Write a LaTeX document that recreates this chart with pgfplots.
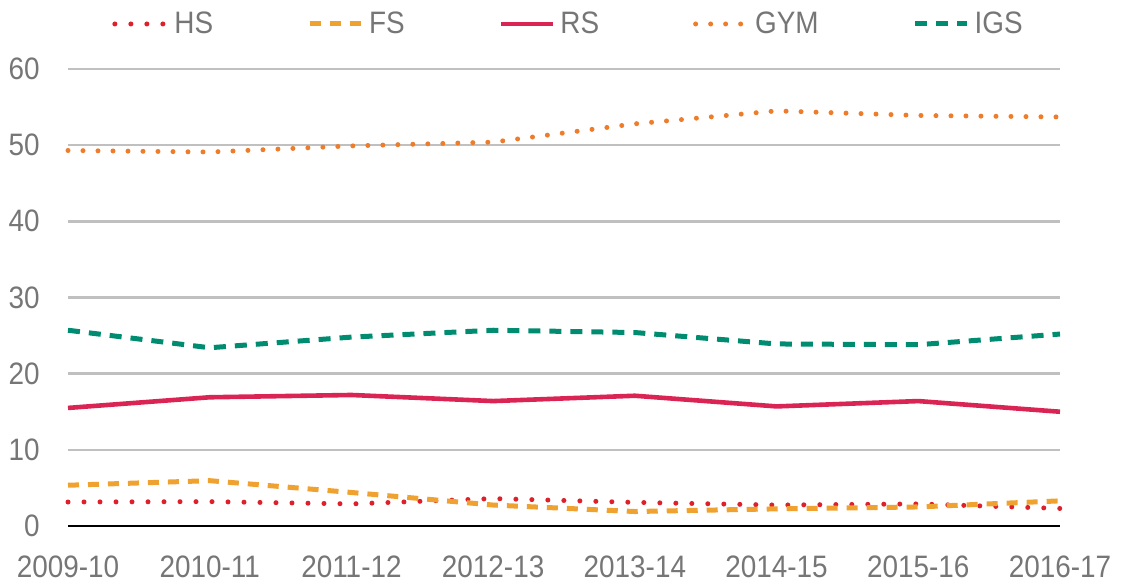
\documentclass[border=0pt]{standalone}
\usepackage{fontspec}
\setmainfont{Liberation Sans}[FakeStretch=0.9]
\usepackage{pgfplots}
\pgfplotsset{compat=1.18}
\definecolor{hscol}{RGB}{222,32,42}
\definecolor{fscol}{RGB}{240,162,48}
\definecolor{rscol}{RGB}{218,36,84}
\definecolor{gymcol}{RGB}{238,125,43}
\definecolor{igscol}{RGB}{0,140,112}
\definecolor{txtgray}{RGB}{118,118,118}
\definecolor{gridgray}{RGB}{192,192,192}
\begin{document}
\begin{tikzpicture}
\begin{axis}[
  scale only axis,
  width=496pt, height=228.5pt,
  xmin=0, xmax=7, ymin=0, ymax=60,
  clip=false,
  axis line style={draw=none},
  major tick length=0pt,
  xtick={0,...,7},
  xticklabels={2009-10,2010-11,2011-12,2012-13,2013-14,2014-15,2015-16,2016-17},
  ytick={10,20,...,60},
  extra y ticks={0},
  extra y tick style={grid style={draw=black, line width=1.3pt}},
  ymajorgrids,
  grid style={draw=gridgray, line width=1.2pt},
  /pgf/number format/assume math mode=true,
  ticklabel style={font=\fontsize{15.5}{18}\selectfont, text=txtgray, inner sep=0pt},
  yticklabel style={anchor=east, xshift=-14pt},
  xticklabel style={anchor=north, yshift=-14.5pt},
  legend columns=5,
  legend style={
    at={(axis description cs:0.5036,1.0985)}, anchor=center,
    draw=none, fill=none,
    font=\fontsize{15.5}{18}\selectfont, text=txtgray,
    nodes={inner sep=0pt},
    /tikz/every odd column/.append style={column sep=2.5pt},
    /tikz/every even column/.append style={column sep=47pt},
  },
  legend image code/.code={\draw[#1] (0pt,0pt) -- (26pt,0pt);},
]
\addplot[hscol, line width=2.5pt, line cap=round, dash pattern=on 0pt off 8pt]
  coordinates {(0,3.15) (1,3.2) (2,2.9) (3,3.6) (4,3.1) (5,2.75) (6,2.9) (7,2.3)};
\addlegendentry{HS}
\addplot[fscol, line width=2.5pt, line cap=butt, dash pattern=on 5.5pt off 4.5pt]
  coordinates {(0,5.35) (1,5.95) (2,4.4) (3,2.75) (4,1.9) (5,2.25) (6,2.5) (7,3.3)};
\addlegendentry{FS}
\addplot[rscol, line width=2.3pt]
  coordinates {(0,15.5) (1,16.9) (2,17.2) (3,16.4) (4,17.1) (5,15.7) (6,16.4) (7,15.0)};
\addlegendentry{RS}
\addplot[gymcol, line width=2.5pt, line cap=round, dash pattern=on 0pt off 7.5pt]
  coordinates {(0,49.3) (1,49.1) (2,49.9) (3,50.4) (4,52.8) (5,54.5) (6,53.9) (7,53.7)};
\addlegendentry{GYM}
\addplot[igscol, line width=2.5pt, line cap=butt, dash pattern=on 6pt off 4.5pt]
  coordinates {(0,25.7) (1,23.4) (2,24.8) (3,25.7) (4,25.4) (5,23.9) (6,23.8) (7,25.2)};
\addlegendentry{IGS}
\end{axis}
\pgfresetboundingbox
\useasboundingbox (-34pt,-27.5pt) rectangle (527pt,263pt);
\end{tikzpicture}
\end{document}
